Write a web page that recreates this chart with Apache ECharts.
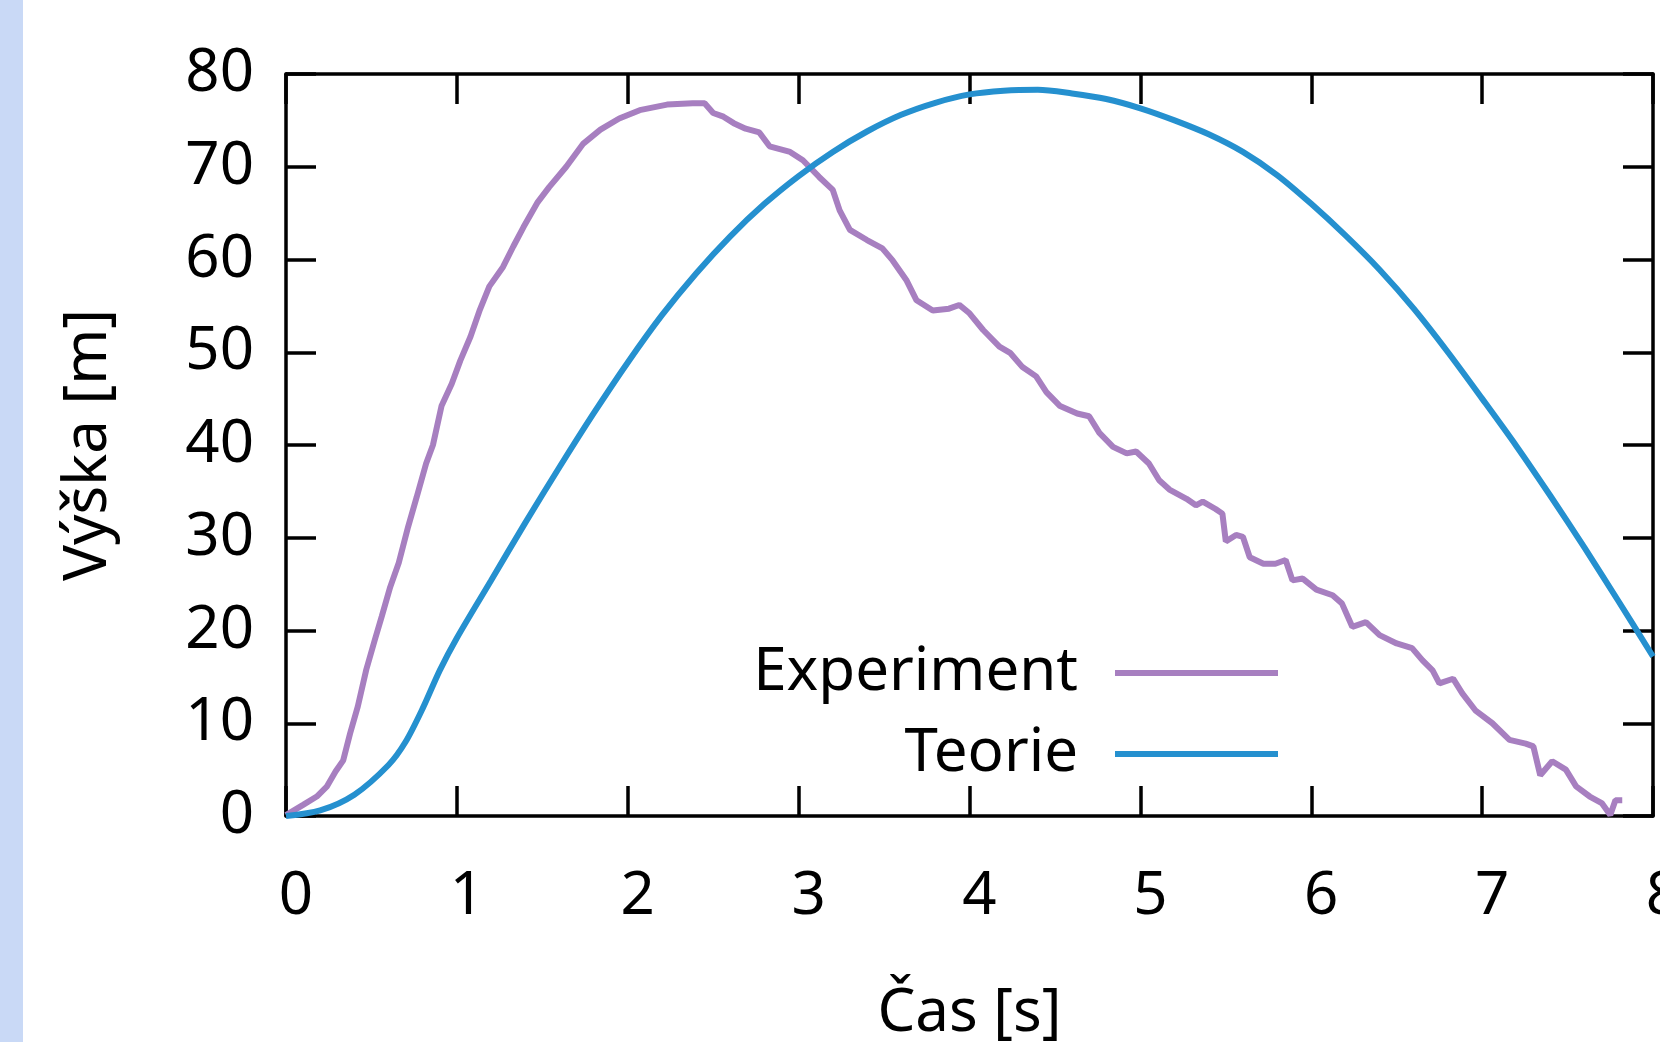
<!DOCTYPE html>
<html>
<head>
<meta charset="utf-8">
<script src="https://cdn.jsdelivr.net/npm/echarts@6/dist/echarts.min.js"></script>
<style>
  html, body { margin: 0; padding: 0; background: #fff; }
  #chart { width: 1660px; height: 1042px; }
</style>
</head>
<body>
<div id="chart"></div>
<script>
// cas [s] a vyska [m]
const expTime = [0.0, 0.1, 0.18, 0.24, 0.29, 0.335, 0.375, 0.42, 0.47, 0.52, 0.56, 0.61, 0.66, 0.715, 0.765, 0.82, 0.86, 0.91, 0.97, 1.02,
  1.08, 1.135, 1.19, 1.27, 1.33, 1.39, 1.47, 1.54, 1.64, 1.74, 1.84, 1.95, 2.07, 2.23, 2.38, 2.45, 2.5, 2.56, 2.62, 2.69,
  2.77, 2.83, 2.95, 3.025, 3.12, 3.2, 3.24, 3.3, 3.4, 3.49, 3.55, 3.63, 3.69, 3.785, 3.88, 3.94, 4.0, 4.08, 4.175, 4.24,
  4.31, 4.39, 4.45, 4.53, 4.63, 4.7, 4.76, 4.84, 4.92, 4.975, 5.05, 5.11, 5.17, 5.27, 5.325, 5.365, 5.44, 5.48, 5.5, 5.56,
  5.6, 5.64, 5.72, 5.79, 5.85, 5.89, 5.95, 6.03, 6.125, 6.18, 6.24, 6.32, 6.4, 6.5, 6.59, 6.65, 6.71, 6.75, 6.83, 6.885,
  6.96, 7.06, 7.16, 7.255, 7.3, 7.34, 7.41, 7.49, 7.55, 7.63, 7.7, 7.75, 7.78, 7.82]
const expHeight = [0.1, 1.2, 2.1, 3.2, 4.8, 6.0, 8.9, 11.8, 15.8, 19.0, 21.5, 24.7, 27.3, 31.2, 34.4, 38.0, 40.0, 44.2, 46.6, 49.1,
  51.7, 54.6, 57.1, 59.2, 61.4, 63.5, 66.1, 67.8, 70.0, 72.5, 74.0, 75.2, 76.1, 76.7, 76.85, 76.85, 75.8, 75.4, 74.7, 74.1,
  73.7, 72.2, 71.6, 70.7, 68.9, 67.5, 65.3, 63.2, 62.1, 61.2, 59.9, 57.8, 55.6, 54.5, 54.7, 55.1, 54.2, 52.4, 50.6, 49.9,
  48.4, 47.4, 45.7, 44.2, 43.4, 43.1, 41.3, 39.8, 39.1, 39.3, 38.0, 36.2, 35.2, 34.2, 33.5, 33.9, 33.1, 32.6, 29.6, 30.3,
  30.1, 27.9, 27.2, 27.2, 27.6, 25.4, 25.6, 24.4, 23.8, 22.9, 20.4, 20.9, 19.5, 18.6, 18.1, 16.8, 15.7, 14.3, 14.8, 13.2,
  11.4, 10.0, 8.2, 7.8, 7.5, 4.4, 5.9, 5.0, 3.2, 2.1, 1.4, 0.1, 1.7, 1.7]

const teoTime = [0, 0.2, 0.4, 0.6, 0.7, 0.8, 0.9, 1.0, 1.2, 1.4, 1.6, 1.8, 2.0, 2.2, 2.4, 2.6, 2.8, 3.0, 3.2, 3.4,
  3.6, 3.8, 4.0, 4.2, 4.4, 4.6, 4.8, 5.0, 5.2, 5.4, 5.6, 5.8, 6.0, 6.2, 6.4, 6.6, 6.8, 7.0, 7.2, 7.4,
  7.6, 7.8, 8.0]
const teoHeight = [0, 0.6, 2.3, 5.5, 8.0, 11.6, 15.7, 19.2, 25.4, 31.6, 37.6, 43.4, 48.9, 54.0, 58.5, 62.5, 66.0, 69.0, 71.6, 73.8,
  75.6, 76.9, 77.8, 78.2, 78.3, 77.9, 77.3, 76.3, 75.0, 73.5, 71.6, 69.1, 66.0, 62.6, 58.9, 54.7, 50.0, 45.0, 39.9, 34.5,
  28.9, 23.1, 17.2]

const FONT = 'Noto Sans'
const FS = 60

const chart = echarts.init(document.getElementById('chart'))

const lineStyle = { color: '#000', width: 3.5 }
const tick = { show: true, inside: true, length: 30, lineStyle: { color: '#000', width: 3.5 } }

const frameAxis = (pos) => ({
  type: 'value',
  position: pos,
  axisLine: { show: true, onZero: false, lineStyle: lineStyle },
  axisTick: tick,
  axisLabel: { show: false },
  splitLine: { show: false }
})

const legendItem = (name, top) => ({
  data: [name],
  right: 382,
  top: top,
  align: 'right',
  icon: 'rect',
  itemWidth: 163,
  itemHeight: 6,
  padding: 0,
  textStyle: { fontFamily: FONT, fontSize: FS, color: '#000', padding: [0, 32, 0, 0] }
})

let option = {
  animation: false,
  textStyle: { fontFamily: FONT },
  graphic: [{
    type: 'rect', left: 0, top: 0, silent: true,
    shape: { width: 23, height: 1042 },
    style: { fill: '#c9d9f6' }
  }],
  grid: { left: 286, right: 7, top: 74, bottom: 226, containLabel: false, outerBoundsMode: 'none' },
  legend: [legendItem('Experiment', 643), legendItem('Teorie', 724)],
  xAxis: [
    Object.assign(frameAxis('bottom'), {
      min: 0, max: 8, interval: 1,
      name: 'Čas [s]',
      nameLocation: 'middle',
      nameGap: 168,
      nameTextStyle: { fontFamily: FONT, fontSize: FS, color: '#000' },
      axisLabel: { show: true, margin: 51, fontSize: FS, color: '#000', padding: [0, 0, 0, 20], showMinLabel: true, showMaxLabel: true }
    }),
    Object.assign(frameAxis('top'), { min: 0, max: 8, interval: 1 })
  ],
  yAxis: [
    Object.assign(frameAxis('left'), {
      min: 0, max: 80, interval: 10,
      name: 'Výška [m]',
      nameLocation: 'middle',
      nameRotate: 90,
      nameGap: 167,
      nameTextStyle: { fontFamily: FONT, fontSize: FS, color: '#000' },
      axisLabel: { show: true, margin: 32, fontSize: FS, color: '#000' }
    }),
    Object.assign(frameAxis('right'), { min: 0, max: 80, interval: 10 })
  ],
  series: [
    {
      name: 'Experiment',
      type: 'line',
      data: expTime.map((t, i) => [t, expHeight[i]]),
      showSymbol: false,
      lineStyle: { color: '#a77fc0', width: 6 },
      itemStyle: { color: '#a77fc0' }
    },
    {
      name: 'Teorie',
      type: 'line',
      smooth: 0.3,
      data: teoTime.map((t, i) => [t, teoHeight[i]]),
      showSymbol: false,
      lineStyle: { color: '#2590cf', width: 6 },
      itemStyle: { color: '#2590cf' }
    }
  ]
}

chart.setOption(option)
</script>
</body>
</html>
